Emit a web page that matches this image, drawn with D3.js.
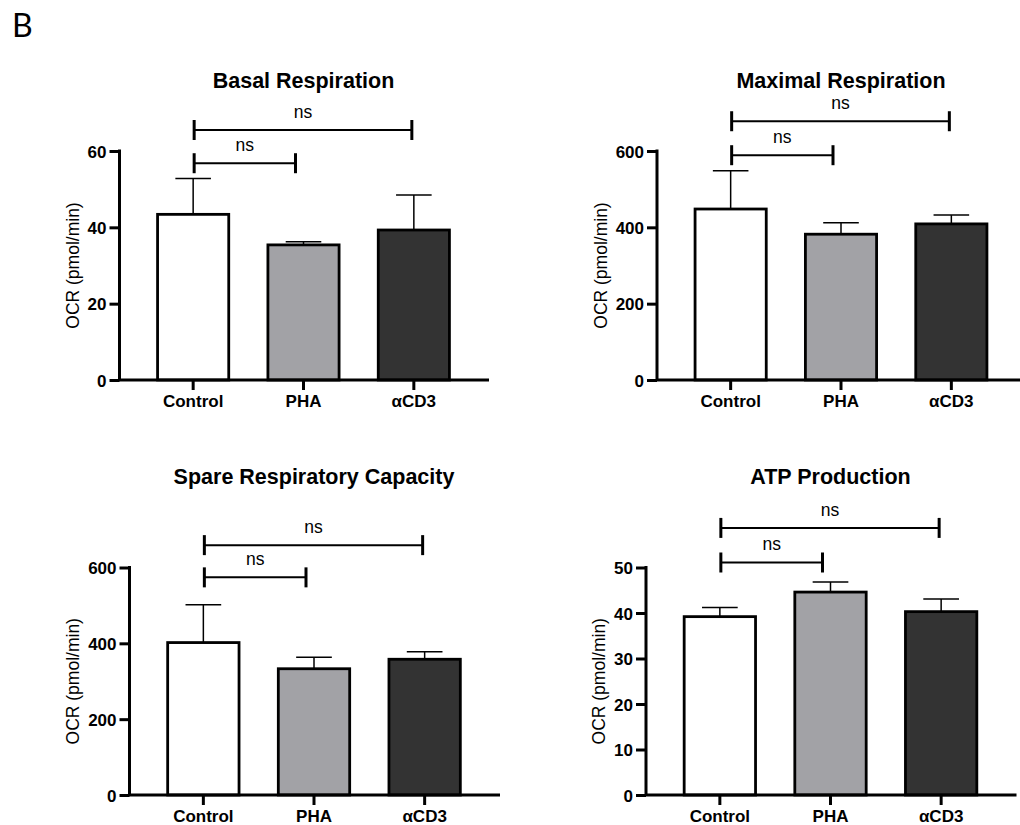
<!DOCTYPE html>
<html>
<head>
<meta charset="utf-8">
<script src="https://cdn.jsdelivr.net/npm/d3@7"></script>
<style>
  html, body { margin: 0; padding: 0; background: #ffffff; }
  svg { display: block; }
  text { font-family: Arial, "Liberation Sans", Helvetica, sans-serif; }
</style>
</head>
<body>
<svg id="fig" width="1020" height="825"></svg>
<script>
// Groups compared in every assay
const categories = ["Control", "PHA", "αCD3"];

// Oxygen consumption rate (pmol/min): group means and upper error (SEM)
const basalMean    = [43.4, 35.4, 39.3];
const basalErr     = [9.4, 0.8, 9.2];
const maximalMean  = [448, 382, 409];
const maximalErr   = [100, 30, 23];
const spareMean    = [402, 333, 358];
const spareErr     = [100, 30, 20];
const atpMean      = [39.2, 44.6, 40.3];
const atpErr       = [2.0, 2.2, 2.8];

// Y-axis tick labels for each panel
const basalTicks   = [0, 20, 40, 60];
const maximalTicks = [0, 200, 400, 600];
const spareTicks   = [0, 200, 400, 600];
const atpTicks     = [0, 10, 20, 30, 40, 50];

// Panel titles
const titles = ["Basal Respiration", "Maximal Respiration", "Spare Respiratory Capacity", "ATP Production"];

// Pairwise comparisons shown above the bars
const comparisons = [
  { from: "Control", to: "PHA",  label: "ns" },
  { from: "Control", to: "αCD3", label: "ns" }
];

const yLabel = "OCR (pmol/min)";
const barFill = ["#ffffff", "#a2a2a6", "#333333"];

// Panel placement (axis origin, plot size, title baseline, bracket heights in axis units)
const panels = [
  { title: titles[0], mean: basalMean,   err: basalErr,   ticks: basalTicks,
    x: 119.5, top: 151, bottom: 380, width: 368, titleY: 88,  levels: [56.8, 65.5] },
  { title: titles[1], mean: maximalMean, err: maximalErr, ticks: maximalTicks,
    x: 657,   top: 151, bottom: 380, width: 368, titleY: 88,  levels: [589, 678] },
  { title: titles[2], mean: spareMean,   err: spareErr,   ticks: spareTicks,
    x: 129.5, top: 567.5, bottom: 795, width: 369, titleY: 484, levels: [574, 659] },
  { title: titles[3], mean: atpMean,     err: atpErr,     ticks: atpTicks,
    x: 646,   top: 567.5, bottom: 795, width: 369, titleY: 484, levels: [51.1, 58.7] }
];

const svg = d3.select("#fig");

// Panel letter
svg.append("text")
  .attr("x", 12).attr("y", 37)
  .style("font-family", "Lato, 'Open Sans', sans-serif")
  .style("font-size", "32px")
  .attr("fill", "#000")
  .text("B");

panels.forEach(p => {
  const g = svg.append("g").attr("transform", `translate(${p.x},0)`);

  const x = d3.scaleBand()
    .domain(categories)
    .range([0, p.width])
    .paddingInner(0.355)
    .paddingOuter(0.345);

  const y = d3.scaleLinear()
    .domain([0, d3.max(p.ticks)])
    .range([p.bottom, p.top]);

  // Bars
  g.selectAll("rect.bar")
    .data(categories)
    .join("rect")
    .attr("class", "bar")
    .attr("x", d => x(d))
    .attr("width", x.bandwidth())
    .attr("y", (d, i) => y(p.mean[i]))
    .attr("height", (d, i) => y(0) - y(p.mean[i]))
    .attr("fill", (d, i) => barFill[i])
    .attr("stroke", "#000")
    .attr("stroke-width", 2.8);

  // Upper error bars
  const eb = g.selectAll("g.err")
    .data(categories)
    .join("g")
    .attr("class", "err");
  eb.append("line")
    .attr("x1", d => x(d) + x.bandwidth() / 2)
    .attr("x2", d => x(d) + x.bandwidth() / 2)
    .attr("y1", (d, i) => y(p.mean[i]))
    .attr("y2", (d, i) => y(p.mean[i] + p.err[i]))
    .attr("stroke", "#000").attr("stroke-width", 1.5);
  eb.append("line")
    .attr("x1", d => x(d) + x.bandwidth() / 4)
    .attr("x2", d => x(d) + x.bandwidth() * 3 / 4)
    .attr("y1", (d, i) => y(p.mean[i] + p.err[i]))
    .attr("y2", (d, i) => y(p.mean[i] + p.err[i]))
    .attr("stroke", "#000").attr("stroke-width", 1.5);

  // Y axis
  const yAxis = g.append("g")
    .call(d3.axisLeft(y).tickValues(p.ticks).tickSize(10).tickSizeOuter(0).tickPadding(3));
  yAxis.select(".domain").remove();
  yAxis.selectAll(".tick line").attr("stroke", "#000").attr("stroke-width", 3);
  yAxis.selectAll(".tick text")
    .attr("fill", "#000")
    .style("font-size", "17px")
    .style("font-weight", "bold")
    .attr("dy", "0.36em");

  // X axis ticks and labels
  const xAxis = g.append("g")
    .attr("transform", `translate(0,${p.bottom})`)
    .call(d3.axisBottom(x).tickSize(10).tickSizeOuter(0).tickPadding(5));
  xAxis.select(".domain").remove();
  xAxis.selectAll(".tick line").attr("stroke", "#000").attr("stroke-width", 3);
  xAxis.selectAll(".tick text")
    .attr("fill", "#000")
    .style("font-size", "17px")
    .style("font-weight", "bold");

  // Axis lines
  g.append("path")
    .attr("d", `M0,${p.top}V${p.bottom}H${p.width}`)
    .attr("fill", "none")
    .attr("stroke", "#000")
    .attr("stroke-width", 3)
    .attr("stroke-linecap", "square");

  // Y-axis title, placed left of the tick labels
  const bb = yAxis.node().getBBox();
  const lx = bb.x - 15;
  const ly = (p.top + p.bottom) / 2;
  g.append("text")
    .attr("transform", `translate(${lx},${ly}) rotate(-90)`)
    .attr("text-anchor", "middle")
    .attr("dy", "0.35em")
    .style("font-size", "17.5px")
    .attr("fill", "#000")
    .text(yLabel);

  // Panel title
  g.append("text")
    .attr("x", x("PHA") + x.bandwidth() / 2)
    .attr("y", p.titleY)
    .attr("text-anchor", "middle")
    .style("font-size", "21.5px")
    .style("font-weight", "bold")
    .attr("fill", "#000")
    .text(p.title);

  // Significance brackets
  comparisons.forEach((c, k) => {
    const by = y(p.levels[k]);
    const x1 = x(c.from) + x.bandwidth() / 2 + 1;
    const x2 = x(c.to) + x.bandwidth() / 2 - (k === 0 ? 8 : 2);
    const bg = g.append("g");
    bg.append("line")
      .attr("x1", x1).attr("x2", x2).attr("y1", by).attr("y2", by)
      .attr("stroke", "#000").attr("stroke-width", 2);
    [x1, x2].forEach(xx => {
      bg.append("line")
        .attr("x1", xx).attr("x2", xx).attr("y1", by - 10).attr("y2", by + 10)
        .attr("stroke", "#000").attr("stroke-width", 3);
    });
    bg.append("text")
      .attr("x", (x1 + x2) / 2)
      .attr("y", by - 12)
      .attr("text-anchor", "middle")
      .style("font-size", "17.5px")
      .attr("fill", "#000")
      .text(c.label);
  });
});
</script>
</body>
</html>
